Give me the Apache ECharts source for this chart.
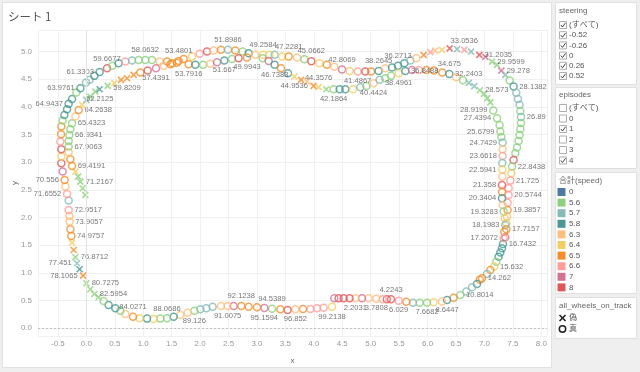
<!DOCTYPE html>
<html><head><meta charset="utf-8">
<script src="https://cdn.jsdelivr.net/npm/echarts/dist/echarts.min.js"></script>
<style>
html,body{margin:0;padding:0;background:#efefef;width:640px;height:372px;overflow:hidden;}
#pane{position:absolute;left:2px;top:2px;width:548px;height:364px;background:#fff;border:1px solid #e2e2e2;}
#main{position:absolute;left:0;top:0;width:640px;height:372px;}
</style></head><body>
<div id="pane"></div><div id="main"></div>
<script>
// ---------- data ----------
const speedLevels = [0, 5.6, 5.7, 5.8, 6.3, 6.4, 6.5, 6.6, 7, 8];
const steeringValues = ['(すべて)', '-0.52', '-0.26', '0', '0.26', '0.52'];
const steeringChecked = [1, 1, 1, 1, 1, 1];
const episodeValues = ['(すべて)', '0', '1', '2', '3', '4'];
const episodeChecked = [0, 0, 1, 0, 0, 1];
const trackValues = ['偽', '真'];

// lap A (outer line + shared bottom)
const lapA_x = [7.367,7.326,7.309,7.279,7.249,7.209,7.173,7.103,7.045,6.957,
 6.919,6.869,6.781,6.681,6.576,6.458,6.342,6.254,6.106,5.990,
 5.860,5.744,5.626,5.491,5.357,5.283,5.210,5.099,4.963,4.847,
 4.730,4.629,4.524,4.436,4.360,4.320,4.172,4.056,3.938,3.810,
 3.675,3.539,3.411,3.265,3.130,3.001,2.854,2.725,2.590,2.484,
 2.368,2.221,2.110,2.004,1.899,1.781,1.653,1.535,1.419,1.301,
 1.183,1.067,0.937,0.821,0.686,0.598,0.510,0.392,0.304,0.216,
 0.141,0.070,0.000,-0.058,-0.118,-0.164,-0.193,-0.223,-0.251,-0.264,
 -0.281,-0.294,-0.299,-0.311,-0.311,-0.339,-0.369,-0.382,-0.417,-0.440,
 -0.440,-0.440,-0.457,-0.445,-0.440,-0.417,-0.387,-0.339,-0.311,-0.251,
 -0.176,-0.105,-0.005,0.058,0.141,0.234,0.364,0.457,0.568,0.686,
 0.804,0.920,1.037,1.155,1.289,1.419,1.507,1.623,1.711,1.858,
 1.992,2.122,2.238,2.368,2.491,2.620,2.748,2.854,2.971,3.107,
 3.218,3.311,3.441,3.557,3.705,3.833,3.956,4.097,4.229,4.360,
 4.496,4.629,4.770,4.905,5.006,5.139,5.257,5.375,5.480,5.591,
 5.697,5.802,5.931,6.048,6.136,6.254,6.388,6.518,6.646,6.764,
 6.910,7.015,7.133,7.221,7.297,7.367,7.443,7.513,7.560,7.590,
 7.618,7.631,7.643,7.643,7.631,7.618,7.601,7.573,7.543,7.513,
 7.485,7.473,7.455,7.425,7.425,7.407,7.407,7.397,7.385,7.385];
const lapA_y = [1.645,1.524,1.446,1.367,1.294,1.204,1.114,1.054,0.982,0.904,
 0.877,0.801,0.741,0.662,0.602,0.553,0.512,0.484,0.470,0.463,
 0.463,0.463,0.481,0.499,0.524,0.524,0.524,0.535,0.542,0.542,
 0.542,0.542,0.542,0.542,0.542,0.390,0.372,0.362,0.349,0.349,
 0.343,0.331,0.343,0.354,0.367,0.380,0.390,0.403,0.403,0.403,
 0.403,0.390,0.362,0.343,0.318,0.282,0.240,0.210,0.181,0.174,
 0.168,0.174,0.181,0.210,0.259,0.318,0.362,0.421,0.493,0.560,
 0.620,0.705,0.813,0.951,1.067,1.175,1.284,1.415,1.547,1.668,
 1.790,1.927,2.030,2.139,2.307,2.428,2.560,2.681,2.831,2.983,
 3.102,3.236,3.373,3.507,3.644,3.753,3.856,3.959,4.055,4.145,
 4.259,4.338,4.440,4.489,4.561,4.633,4.700,4.742,4.790,4.819,
 4.837,4.850,4.850,4.850,4.819,4.819,4.790,4.832,4.868,4.910,
 4.959,5.000,5.018,5.031,5.031,5.018,5.000,4.971,4.941,4.941,
 4.941,4.941,4.910,4.910,4.892,4.863,4.827,4.790,4.760,4.724,
 4.678,4.651,4.639,4.639,4.639,4.651,4.700,4.711,4.742,4.790,
 4.837,4.881,4.941,4.989,5.018,5.031,5.058,5.044,5.031,5.000,
 4.941,4.904,4.819,4.760,4.657,4.579,4.476,4.367,4.254,4.145,
 4.037,3.928,3.820,3.711,3.603,3.494,3.386,3.265,3.163,3.042,
 2.921,2.802,2.668,2.531,2.410,2.270,2.139,2.017,1.898,1.790];
const lapA_speed = [7,5.8,5.8,5.8,5.8,5.6,6.4,6.5,5.7,6.5,
 6.5,5.8,5.7,5.7,5.6,6.5,5.8,6.3,6.4,5.6,
 5.6,5.7,6.5,6.6,8,8,6.6,6.3,6.3,7,
 6.3,8,8,8,7,6.4,6.6,6.6,6.6,6.5,
 6.3,8,6.5,5.6,7,6.5,6.5,6.5,7,6.3,
 6.3,5.7,5.7,5.7,5.6,6.3,6.3,5.8,5.6,5.6,
 6.4,5.8,6.4,6.5,6.3,5.6,5.8,5.8,5.6,5.6,
 5.6,5.6,5.6,6.5,5.8,5.7,5.6,6.5,6.4,6.5,
 6.5,6.3,6.3,6.6,5.7,6.6,6.3,6.5,7,8,
 6.4,8,6.6,6.5,6.5,5.6,5.8,5.8,5.8,5.8,
 5.6,5.8,5.7,5.7,5.8,5.8,8,5.6,5.8,6.6,
 5.7,5.6,5.6,5.6,6.3,6.5,6.5,6.5,6.5,6.4,
 6.6,8,6.3,6.5,5.7,6.5,5.6,5.8,6.3,6.4,
 6.4,5.7,6.4,6.5,6.3,5.6,8,6.4,6.5,6.3,
 7,6.4,6.6,8,6.5,5.8,6.3,5.8,5.8,5.8,
 5.7,6.3,6.5,6.6,6.3,6.4,8,5.7,6.6,5.7,
 8,7,5.6,5.6,7,5.7,5.6,5.8,5.7,5.7,
 5.7,5.6,5.7,5.6,5.6,5.6,5.6,5.6,5.6,8,
 5.6,6.4,6.6,6.6,6.6,6.6,6.5,6.3,6.4,6.5];
const lapA_onTrack = [1,1,1,1,1,1,1,1,1,1, 1,1,1,1,1,1,1,1,1,1, 1,1,1,1,1,1,1,1,1,1,
 1,1,1,1,1,1,1,1,1,1, 1,1,1,1,1,1,1,1,1,1, 1,1,1,1,1,1,1,1,1,1,
 1,1,1,1,1,1,1,1,1,0, 0,0,0,0,0,0,0,0,0,1, 1,1,1,1,1,1,1,1,1,1,
 1,1,1,1,1,1,1,1,1,1, 1,1,1,1,1,1,1,1,1,1, 1,1,1,1,1,1,1,1,1,1,
 1,1,1,1,1,1,1,1,1,1, 1,1,1,1,1,1,1,1,1,1, 1,1,1,1,1,1,1,1,1,1,
 1,1,0,0,0,0,0,0,0,0, 0,0,0,0,0,0,1,1,1,1, 1,1,1,1,1,1,1,1,1,1,
 1,1,1,1,1,1,1,1,1,1];
const lapA_labelIdx = [1,6,9,14,16,19,23,24,27,30,35,40,43,44,47,49,54,58,63,70,72,73,75,76,79,81,83,85,87,98,101,105,106,112,117,124,129,133,136,140,142,145,148,158,160,162,164,167,172,180,182,184,186,189];
const lapA_labelText = ['16.7432','15.632','14.262','10.8014','8.6447','7.6682','6.029','4.2243','3.7808','2.2031','99.2138','96.852','94.5389','95.1594','92.1238','91.0075','89.126','88.0686','84.0271','82.5954','80.7275','78.1065','77.451','76.8712','74.9757','73.9057','72.9517','71.6552','70.556','64.9437','63.9761','61.3303','59.6677','58.0632','53.4801','51.8986','49.2584','47.2281','45.0662','42.8069','41.4867','38.2645','36.2713','33.0536','31.2035','29.9599','29.278','28.1382','26.89','22.8438','21.725','20.5744','19.3857','17.7157'];

// lap B (inner line)
const lapB_x = [-0.018,-0.065,-0.105,-0.146,-0.193,-0.251,-0.281,-0.311,-0.311,-0.311,
 -0.299,-0.281,-0.251,-0.193,-0.135,-0.076,0.000,0.070,0.158,0.234,
 0.375,0.492,0.610,0.716,0.832,0.949,1.078,1.225,1.359,1.477,
 1.591,1.799,1.916,2.052,2.180,2.298,2.426,2.562,2.678,2.825,
 3.100,3.205,3.311,3.423,3.546,3.657,3.775,3.881,3.996,4.084,
 4.220,4.348,4.454,4.554,4.689,4.818,4.923,5.051,5.157,5.257,
 5.357,5.491,5.609,5.727,5.843,5.978,6.110,6.259,6.382,6.505,
 6.623,6.725,6.822,6.919,6.992,7.050,7.103,7.156,7.221,7.267,
 7.279,7.297,7.320,7.320,7.320,7.314,7.314,7.314,7.309,7.309,
 7.309,7.320,7.337,7.355,7.367,7.349,7.337];
const lapB_y = [2.410,2.531,2.650,2.741,2.831,2.934,3.055,3.182,3.283,3.386,
 3.494,3.597,3.706,3.825,3.946,4.037,4.127,4.187,4.277,4.320,
 4.380,4.429,4.489,4.519,4.579,4.620,4.657,4.700,4.742,4.772,
 4.796,4.772,4.760,4.760,4.778,4.809,4.837,4.868,4.881,4.892,
 4.881,4.832,4.760,4.700,4.610,4.548,4.489,4.458,4.380,4.357,
 4.320,4.320,4.320,4.320,4.320,4.357,4.380,4.429,4.489,4.519,
 4.561,4.610,4.651,4.669,4.669,4.669,4.657,4.624,4.597,4.534,
 4.482,4.434,4.375,4.302,4.236,4.158,4.082,3.937,3.796,3.675,
 3.554,3.458,3.355,3.236,3.115,2.988,2.867,2.744,2.590,2.464,
 2.350,2.229,2.108,1.988,1.867,1.746,1.627];
const lapB_speed = [5.6,5.6,5.6,5.6,6.4,6.5,6.5,6.3,5.6,5.6,
 5.6,5.6,5.6,6.3,6.5,6.4,5.7,5.6,5.6,5.8,
 5.6,6.4,6.5,6.5,6.5,6.5,8,7,6.3,6.5,
 6.5,6.5,5.8,5.6,6.3,7,5.8,5.6,8,6.5,
 5.6,7,5.8,6.5,5.8,6.4,6.5,6.3,6.5,6.4,
 5.6,5.6,5.8,5.8,6.4,5.7,5.6,6.3,5.7,5.6,
 5.6,6.4,5.8,7,6.6,6.5,6.5,6.5,5.8,6.3,
 5.6,5.7,5.7,5.6,5.6,5.6,5.6,5.6,5.6,5.6,
 5.6,5.6,5.7,6.3,6.6,5.7,6.4,6.3,8,6.5,
 5.8,6.3,5.6,6.4,5.7,6.5,6.6];
const lapB_onTrack = [0,0,0,0,0,1,1,1,1,1, 1,1,1,1,1,0,0,0,0,0, 0,0,0,0,0,1,1,1,1,1,
 1,1,1,1,1,1,1,1,1,1, 1,1,1,1,1,0,0,0,0,0, 0,1,1,1,1,1,1,1,1,1,
 1,1,1,1,1,1,1,1,1,1, 1,0,0,0,0,0,0,1,1,1, 1,1,1,1,1,1,1,1,1,1,
 1,1,1,1,1,1,1];
const lapB_labelIdx = [2,5,8,10,12,14,19,23,27,31,36,39,42,45,49,51,57,61,62,68,71,73,77,78,80,82,84,86,88,90,92,94,96];
const lapB_labelText = ['71.2167','69.4191','67.9063','66.9341','65.4323','64.2638','62.2125','59.8209','57.4391','53.7916','51.667','49.9943','46.7383','44.9536','44.3576','42.1864','40.4424','38.4961','36.8488','34.675','32.2403','28.573','28.9199','27.4394','25.6799','24.7429','23.6618','22.5941','21.358','20.3404','19.3283','18.1983','17.2072'];

// ---------- styles / layout ----------
const speedColors = ['#4e79a7','#8cd17d','#86bcb6','#499894','#ffbe7d','#f1ce63','#f28e2b','#ff9d9a','#d37295','#e15759'];
const lapA_labelPos = ['right','right','right','right','bottom','bottom','bottom','top','bottom','bottom','bottom','bottom','top','bottom','top','bottom','bottom','top','top','right','right','left','left','right','right','right','right','left','left','left','left','left','top','top','top','top','top','top','top','top','bottom','top','top','top','right','right','right','right','right','right','right','right','right','right'];
const lapB_labelPos = ['right','right','right','right','right','right','bottom','bottom','bottom','bottom','bottom','bottom','bottom','bottom','top','bottom','bottom','bottom','right','top','top','right','left','left','left','left','left','left','left','left','left','left','left'];
const NUMFONT = "'Liberation Sans Narrow','Liberation Sans',Arial,sans-serif";
const UIFONT = "'Liberation Sans','Noto Sans CJK JP',sans-serif";
const CROSS = 'path://M0,0L10,10M10,0L0,10';

function buildData(xs, ys, sp, on, idx, txt, pos) {
  const map = {};
  idx.forEach((i, k) => { map[i] = k; });
  return xs.map((x, i) => {
    const c = speedColors[speedLevels.indexOf(sp[i])];
    const item = {
      value: [x, ys[i], sp[i]],
      symbol: on[i] ? 'circle' : CROSS,
      symbolSize: on[i] ? 7 : 6,
      itemStyle: { color: 'rgba(0,0,0,0)', borderColor: c, borderWidth: on[i] ? 1.5 : 1.6 }
    };
    if (map[i] !== undefined) {
      const k = map[i];
      item.label = { show: true, formatter: txt[k], position: pos[k] };
    }
    return item;
  });
}

const seriesLabel = { show: false, fontSize: 7.6, color: '#555', fontFamily: NUMFONT, distance: 1.5 };

// ---------- legend graphics ----------
const g = [];
g.push({ type: 'text', left: 8, top: 11, style: { text: 'シート 1', fontSize: 11.5, fill: '#555', fontFamily: "'Noto Sans CJK JP',sans-serif" } });
function card(x, y, w, h) {
  g.push({ type: 'rect', shape: { x: x, y: y, width: w, height: h }, style: { fill: '#fff', stroke: '#e0e0e0', lineWidth: 1 }, silent: true });
}
function txt(x, y, s, color, size) {
  g.push({ type: 'text', x: x, y: y, style: { text: s, fill: color || '#555', fontSize: size || 8, fontFamily: UIFONT, textVerticalAlign: 'middle', verticalAlign: 'middle' }, silent: true });
}
function checkbox(x, y, checked) {
  g.push({ type: 'rect', shape: { x: x, y: y - 3.5, width: 7, height: 7 }, style: { fill: '#fff', stroke: '#9a9a9a', lineWidth: 0.8 }, silent: true });
  if (checked) g.push({ type: 'polyline', shape: { points: [[x + 1.3, y], [x + 3, y + 2], [x + 6, y - 2.2]] }, style: { stroke: '#444', lineWidth: 1, fill: null }, silent: true });
}
// steering card
card(555.5, 2.5, 81, 82);
txt(559, 11, 'steering', '#666');
steeringValues.forEach((v, i) => { checkbox(559.5, 25 + i * 10.2, steeringChecked[i]); txt(569, 25 + i * 10.2, v); });
// episodes card
card(555.5, 87.5, 81, 81);
txt(559, 95, 'episodes', '#666');
episodeValues.forEach((v, i) => { checkbox(559.5, 108 + i * 10.5, episodeChecked[i]); txt(569, 108 + i * 10.5, v); });
// speed card
card(555.5, 172.5, 81, 121);
txt(559, 181, '合計(speed)', '#666');
speedLevels.forEach((v, i) => {
  const cy = 192 + i * 10.6;
  g.push({ type: 'rect', shape: { x: 557.5, y: cy - 4, width: 8, height: 8 }, style: { fill: speedColors[i] }, silent: true });
  txt(569, cy, String(v));
});
// all_wheels card
card(555.5, 297.5, 81, 41);
txt(559, 306, 'all_wheels_on_track', '#666');
g.push({ type: 'polyline', shape: { points: [[559.5, 315], [565.5, 321]] }, style: { stroke: '#222', lineWidth: 1.6 }, silent: true });
g.push({ type: 'polyline', shape: { points: [[565.5, 315], [559.5, 321]] }, style: { stroke: '#222', lineWidth: 1.6 }, silent: true });
txt(569, 318, trackValues[0]);
g.push({ type: 'circle', shape: { cx: 562.5, cy: 329, r: 3.2 }, style: { fill: 'none', stroke: '#222', lineWidth: 1.5 }, silent: true });
txt(569, 329, trackValues[1]);

// ---------- chart ----------
const chart = echarts.init(document.getElementById('main'), null, { renderer: 'canvas' });
const axisLbl = { color: '#999', fontSize: 8, fontFamily: UIFONT, showMinLabel: false, showMaxLabel: false, formatter: v => v.toFixed(1) };
chart.setOption({
  animation: false,
  backgroundColor: 'transparent',
  graphic: g,
  grid: { left: 38, top: 30, width: 509, height: 306, outerBoundsMode: 'none' },
  xAxis: {
    type: 'value', min: -0.85, max: 8.1, splitNumber: 18,
    axisLine: { show: false }, axisTick: { show: false },
    axisLabel: Object.assign({ margin: 4 }, axisLbl),
    splitLine: { lineStyle: { color: '#f0f0f0', width: 1 } },
    name: 'x', nameLocation: 'middle', nameGap: 21, nameMoveOverlap: false,
    nameTextStyle: { color: '#666', fontSize: 8, fontFamily: UIFONT }
  },
  yAxis: {
    type: 'value', min: -0.14, max: 5.39, splitNumber: 11,
    axisLine: { show: false }, axisTick: { show: false },
    axisLabel: Object.assign({ margin: 6 }, axisLbl),
    splitLine: { lineStyle: { color: '#f0f0f0', width: 1 } },
    name: 'y', nameLocation: 'middle', nameGap: 19, nameMoveOverlap: false,
    nameTextStyle: { color: '#666', fontSize: 8, fontFamily: UIFONT }
  },
  series: [
    {
      type: 'scatter', name: 'lapA', silent: true,
      label: seriesLabel, emphasis: { disabled: true },
      data: buildData(lapA_x, lapA_y, lapA_speed, lapA_onTrack, lapA_labelIdx, lapA_labelText, lapA_labelPos),
      markLine: {
        silent: true, symbol: 'none', label: { show: false },
        data: [
          { yAxis: 0, lineStyle: { color: '#c4c4c4', type: [2, 2], width: 1 } },
          { xAxis: 0, lineStyle: { color: '#e2e2e2', type: 'solid', width: 1 } }
        ]
      }
    },
    {
      type: 'scatter', name: 'lapB', silent: true,
      label: seriesLabel, emphasis: { disabled: true },
      data: buildData(lapB_x, lapB_y, lapB_speed, lapB_onTrack, lapB_labelIdx, lapB_labelText, lapB_labelPos)
    }
  ]
});
</script>
</body></html>
